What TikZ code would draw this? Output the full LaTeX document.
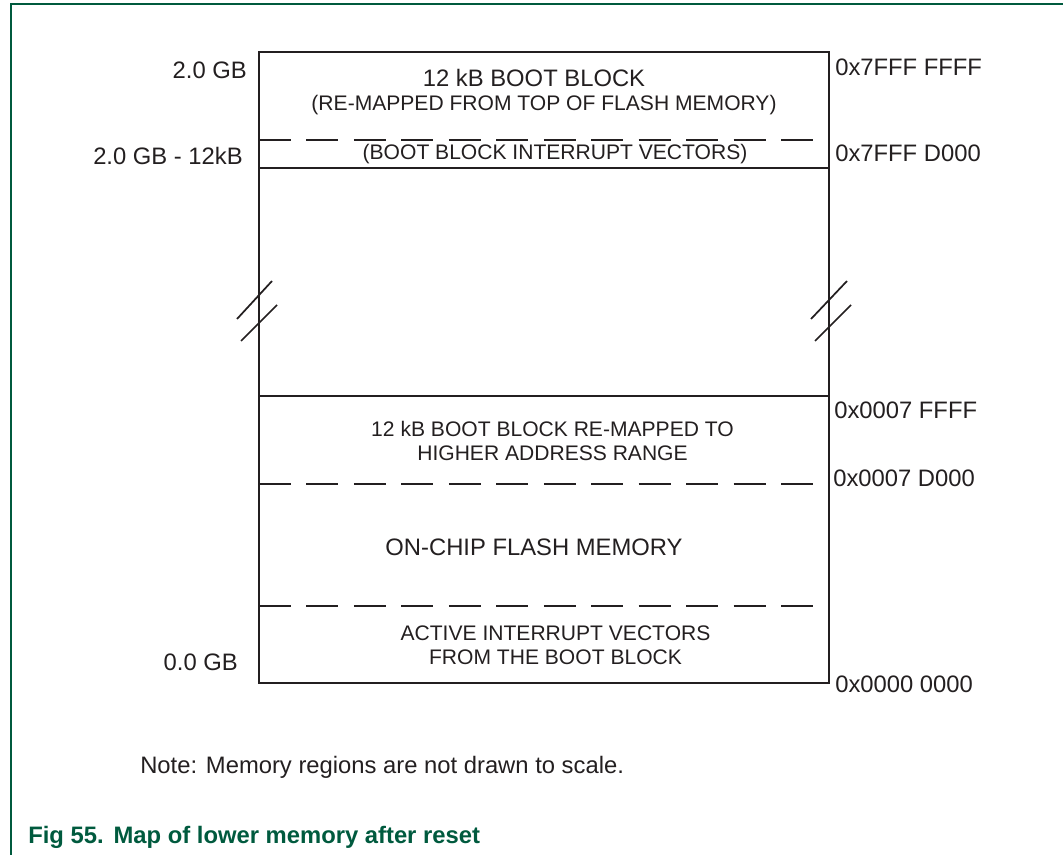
\documentclass[tikz,border=0pt]{standalone}
\usepackage{fontspec}
\setmainfont{Liberation Sans}
\usetikzlibrary{positioning}
\definecolor{nxpgreen}{RGB}{0,90,62}
\definecolor{inkgray}{RGB}{35,31,32}

\begin{document}
\begin{tikzpicture}[x=0.75pt,y=-0.75pt,
    bigtxt/.style={font=\fontsize{17.85}{21}\selectfont,text=inkgray,inner sep=0pt},
    smalltxt/.style={font=\fontsize{15.8}{18}\selectfont,text=inkgray,inner sep=0pt,align=center},
    addr/.style={bigtxt,anchor=base west},
    gblabel/.style={bigtxt,anchor=base east},
    wall/.style={draw=inkgray,line width=1.5pt},
    split/.style={draw=inkgray,line width=1.2pt,dash pattern=on 24pt off 11.6pt},
    brk/.style={draw=inkgray,line width=1.3pt}
  ]
    \useasboundingbox (0,0) rectangle (1063,855);
    % frame
    \draw[nxpgreen,line width=1.1pt] (11,855) -- (11,4) -- (1063,4);

    % memory column
    \draw[wall] (259,52) rectangle (829,683);
    \draw[wall] (259,168) -- (829,168);
    \draw[wall] (259,396) -- (829,396);
    \draw[split] (259,140) -- (820,140);
    \draw[split] (259,484) -- (817,484);
    \draw[split] (259,606) -- (817,606);

    % break marks
    \draw[brk] (237,319) -- (272,281);
    \draw[brk] (241,341) -- (277,305);
    \draw[brk] (811,319) -- (847,281);
    \draw[brk] (815,341) -- (851,305);

    % region texts
    \node[bigtxt,anchor=base] (bootblk) at (534,87) {12 kB BOOT BLOCK};
    \node[smalltxt,anchor=base] (bootsrc) at (544,111) {(RE-MAPPED FROM TOP OF FLASH MEMORY)};
    \node[smalltxt,anchor=base] (bootvec) at (555,160) {(BOOT BLOCK INTERRUPT VECTORS)};
    \node[smalltxt] (remap) at (552.5,441) {12 kB BOOT BLOCK RE-MAPPED TO\\HIGHER ADDRESS RANGE};
    \node[bigtxt,anchor=base] (flash) at (534,555) {ON-CHIP FLASH MEMORY};
    \node[smalltxt] (actvec) at (555.5,645) {ACTIVE INTERRUPT VECTORS\\FROM THE BOOT BLOCK};

    % sizes
    \node[gblabel] (gbtop) at (247,79) {2.0 GB};
    \node[gblabel] (gbvec) at (243,165) {2.0 GB - 12kB};
    \node[gblabel] (gbzero) at (238,670) {0.0 GB};

    % addresses
    \node[addr] (adtop) at (835,76) {0x7FFF FFFF};
    \node[addr] (advec) at (835,162) {0x7FFF D000};
    \node[addr] (adhi) at (834,418) {0x0007 FFFF};
    \node[addr] (adhivec) at (833,486) {0x0007 D000};
    \node[addr] (adzero) at (835,692) {0x0000 0000};

    \node[bigtxt,anchor=base west] (note) at (140,773) {Note: Memory regions are not drawn to scale.};
    \node[bigtxt,anchor=base west,text=nxpgreen,font=\fontsize{17.85}{21}\selectfont\bfseries] (caption) at (28,843)
      {Fig 55.\hspace{7.5pt}Map of lower memory after reset};
\end{tikzpicture}
\end{document}
